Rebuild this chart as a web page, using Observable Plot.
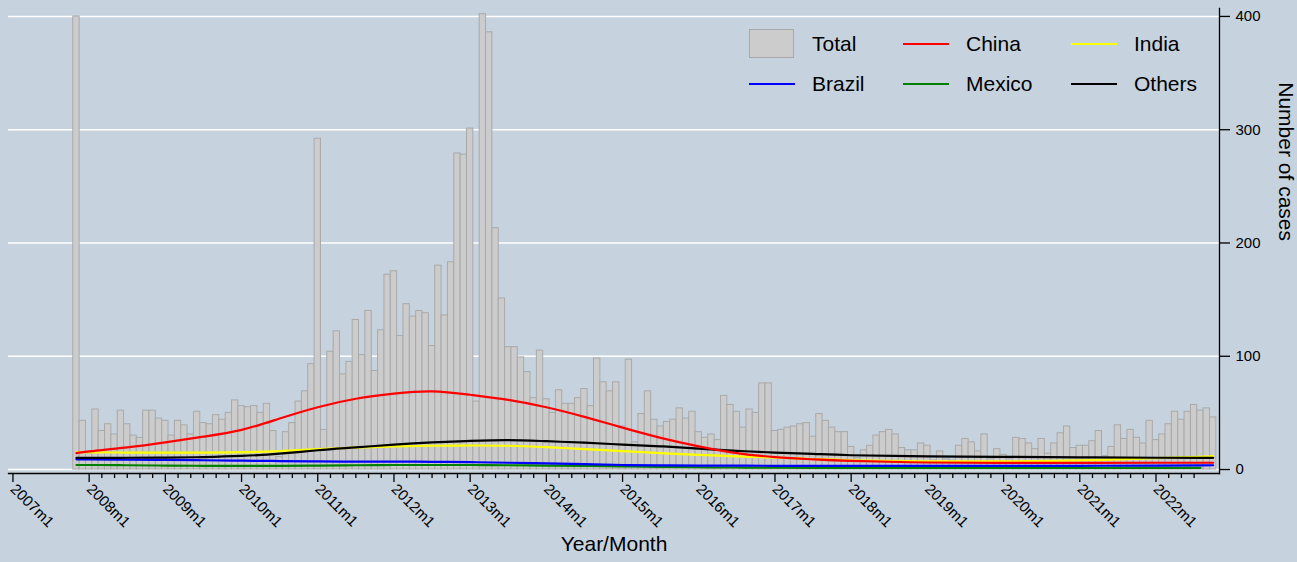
<!DOCTYPE html>
<html><head><meta charset="utf-8">
<script src="https://cdn.jsdelivr.net/npm/d3@7"></script>
<script src="https://cdn.jsdelivr.net/npm/@observablehq/plot@0.6"></script>
<style>
html,body{margin:0;padding:0;background:#c6d3df;}
#wrap{position:relative;width:1297px;height:562px;overflow:hidden;font-family:"Liberation Sans",Arial,sans-serif;}
.leg{position:absolute;font-size:21px;color:#000;line-height:1;}
</style></head><body><div id="wrap"></div>
<script>
// ---- data ----
const firstBarMonth = "2007m11";
const totalCases = [
  400, 43,
  14, 53, 34, 40, 31, 52, 40, 30, 28, 52, 52, 45,
  43, 30, 43, 39, 31, 51, 41, 40, 48, 44, 50, 61,
  56, 55, 56, 50, 58, 34, 11, 33, 41, 60, 69, 93,
  292, 35, 104, 122, 84, 95, 132, 101, 140, 87, 123, 172,
  175, 118, 146, 135, 140, 138, 109, 180, 136, 183, 279, 278,
  301, 60, 402, 386, 213, 151, 108, 108, 99, 86, 63, 105,
  62, 50, 70, 58, 58, 63, 71, 56, 98, 77, 69, 77,
  38, 97, 24, 49, 69, 44, 38, 42, 44, 54, 45, 51,
  33, 28, 31, 26, 65, 57, 51, 37, 53, 50, 76, 76,
  34, 35, 37, 38, 40, 41, 29, 49, 43, 37, 33, 33,
  20, 10, 17, 21, 30, 33, 35, 31, 19, 17, 17, 23,
  21, 8, 16, 9, 8, 21, 27, 24, 16, 31, 9, 18,
  13, 9, 28, 27, 23, 18, 27, 14, 23, 32, 38, 19,
  21, 21, 25, 34, 12, 20, 39, 27, 35, 28, 23, 43,
  26, 31, 40, 51, 44, 51, 57, 52, 54, 46
];
const trendDates = ["2007m11","2008m1","2008m7","2009m1","2009m7","2010m1","2010m7","2011m1","2011m7","2012m1","2012m7","2013m1","2013m7","2014m1","2014m7","2015m1","2015m7","2016m1","2016m7","2017m1","2017m7","2018m1","2019m1","2020m1","2021m1","2022m1","2022m8","2022m10"];
const chinaTrend  = [14.5,16,19.5,24,29,35,45,55,62.5,67,69,66,61.5,55,46.5,37,28,20.5,14.5,11,9,7.6,6.2,5.8,5.8,6,6,6];
const indiaTrend  = [15.3,15.2,15,15,15,15.3,16.3,18,19.4,20.5,21,21.2,21,19.8,18,16.3,14.5,13,11.7,10.5,9.3,8.2,7.2,7.2,8,10,11.2,11.8];
const brazilTrend = [9,9,8.7,8.5,8.2,7.8,7.5,7.2,7,7,6.8,6.5,6,5.5,4.8,4,3.7,3.5,3.4,3.3,3.3,3.3,3.2,3.2,3.3,3.5,3.7,3.8];
const mexicoTrend = [4,4,3.8,3.5,3.3,3.2,3.3,3.5,3.8,4,4,4,3.8,3.5,3.2,2.8,2.4,2,1.8,1.6,1.5,1.5,1.5,1.5,1.5,1.5,1.5,null];
const othersTrend = [10.3,10.3,10.4,10.5,11,12,14,17,19.5,22,24,25.3,26,25,23.7,22,20.5,18.5,16.5,15,13.8,12.6,11.6,11.2,10.8,10.4,10.3,10.3];
const seriesNames  = ["Total","China","India","Brazil","Mexico","Others"];
const seriesColors = ["#cccccc","#ff0000","#ffff00","#0000ff","#008000","#000000"];
const yTicks = [0,100,200,300,400];
const yearTicks = d3.range(2007, 2023);

// ---- helpers ----
const mIdx = s => { const [y,m] = s.split("m").map(Number); return (y-2007)*12 + (m-1); };
const startIdx = mIdx(firstBarMonth);
const bars = totalCases.map((v,i)=>({m: startIdx+i, v}));
const trendSets = {China: chinaTrend, India: indiaTrend, Brazil: brazilTrend, Mexico: mexicoTrend, Others: othersTrend};
const trends = [];
for (const name of ["Mexico","Brazil","India","Others","China"]) {
  trendSets[name].forEach((v,i)=>{ if (v!=null) trends.push({name, m: mIdx(trendDates[i]), v}); });
}
const colorOf = Object.fromEntries(seriesNames.map((n,i)=>[n, seriesColors[i]]));
const majorTicks = yearTicks.map(y => (y-2007)*12);
const minorTicks = d3.range(14, 187, 2).filter(d => d % 12 !== 0);

const chart = Plot.plot({
  width: 1297, height: 562,
  marginLeft: 8, marginRight: 78, marginTop: 8, marginBottom: 89,
  style: {background: "#c6d3df", fontFamily: "'Liberation Sans', Arial, sans-serif", color: "#000"},
  x: {type: "linear", domain: [-0.7, 190]},
  y: {domain: [-3.5, 407]},
  marks: [
    Plot.gridY(yTicks, {stroke: "#ffffff", strokeOpacity: 1, strokeWidth: 1.5}),
    Plot.rectY(bars, {x1: d => d.m - 0.5, x2: d => d.m + 0.5, y1: 0, y2: "v", fill: "#cccccc", stroke: "#a9a9a9", strokeWidth: 1}),
    Plot.line(trends, {x: "m", y: "v", z: "name", stroke: d => colorOf[d.name], strokeWidth: 2.2, curve: "natural"}),
    Plot.frame({anchor: "bottom", stroke: "#000", strokeWidth: 1.3}),
    Plot.frame({anchor: "right", stroke: "#000", strokeWidth: 1.3}),
    Plot.axisX(minorTicks, {tickSize: 5, fill: "none", label: null, stroke: "#000", strokeWidth: 1.3}),
    Plot.axisX(majorTicks, {tickSize: 9, tickRotate: 45, fontSize: 15, tickPadding: 4,
      tickFormat: d => `${2007 + d/12}m1`, label: null, stroke: "#000", strokeWidth: 1.3}),
    Plot.axisY(yTicks, {anchor: "right", tickSize: 10, tickPadding: 6, fontSize: 15, label: null, stroke: "#000", strokeWidth: 1.3}),
    Plot.text(["Number of cases"], {frameAnchor: "right", dx: 66, rotate: 90, fontSize: 21, fill: "#000"}),
    Plot.text(["Year/Month"], {frameAnchor: "bottom", dy: 77, fontSize: 21, fill: "#000"})
  ]
});
const wrap = document.getElementById("wrap");
wrap.appendChild(chart);

// ---- legend (HTML overlay inside plot region) ----
const legendCols = [749, 903, 1071];
const legendRows = [43.5, 83.5];
seriesNames.forEach((name, i) => {
  const col = legendCols[i % 3], row = legendRows[Math.floor(i / 3)];
  const sw = document.createElement("div");
  sw.style.position = "absolute";
  sw.style.left = col + "px";
  if (name === "Total") {
    sw.style.top = (row - 15) + "px";
    sw.style.width = "45px"; sw.style.height = "29px";
    sw.style.background = colorOf[name];
    sw.style.boxSizing = "border-box";
    sw.style.border = "1px solid #a9a9a9";
  } else {
    sw.style.top = (row - 1) + "px";
    sw.style.width = "46px"; sw.style.height = "2px";
    sw.style.background = colorOf[name];
  }
  wrap.appendChild(sw);
  const t = document.createElement("div");
  t.className = "leg";
  t.textContent = name;
  t.style.left = (col + 63) + "px";
  t.style.top = (row - 11) + "px";
  wrap.appendChild(t);
});
</script></body></html>
